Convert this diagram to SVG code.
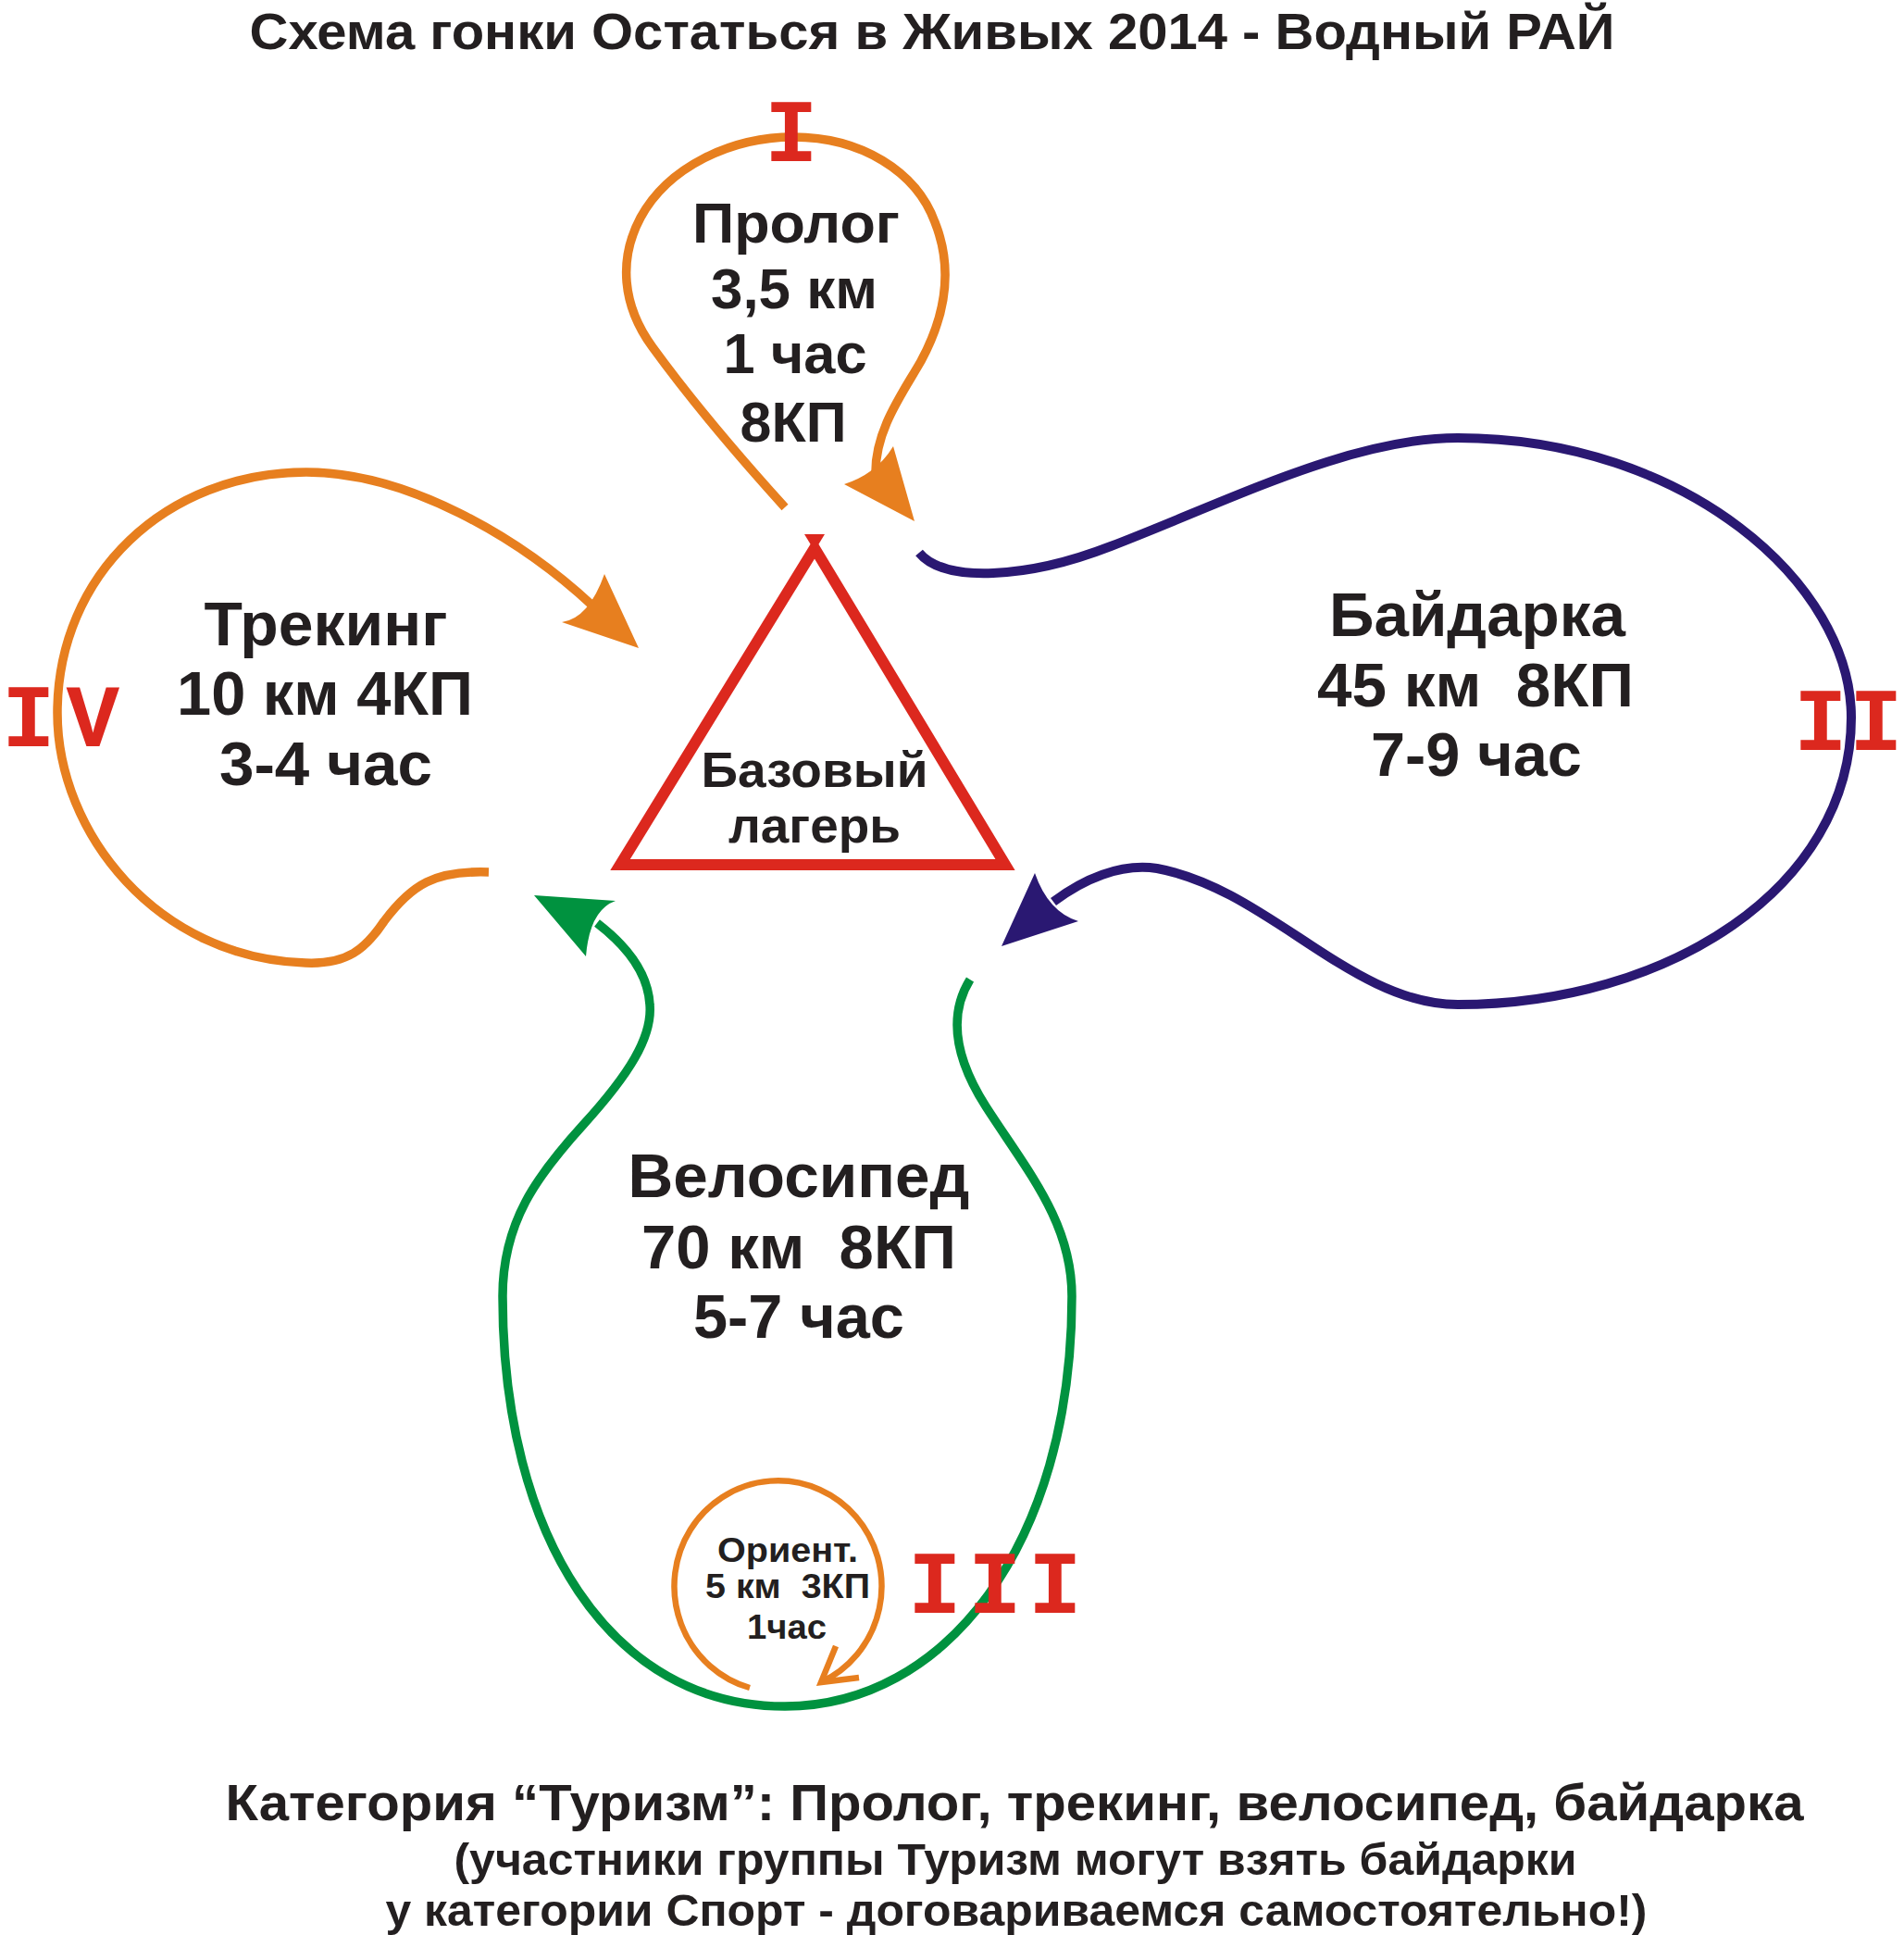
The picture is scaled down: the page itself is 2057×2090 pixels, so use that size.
<svg xmlns="http://www.w3.org/2000/svg" width="2057" height="2090" viewBox="0 0 2057 2090">
<style>
  .lbl { font-family: "Liberation Sans", Arial, "Noto Sans", sans-serif; font-weight: bold; fill: #231f20; text-anchor: middle; }
  .rn { font-family: "Liberation Mono", "Courier New", monospace; font-weight: bold; fill: #dc281e; }
  .orange { fill: none; stroke: #e77f1f; stroke-width: 9.5; }
  .orange-thin { fill: none; stroke: #e77f1f; stroke-width: 6.5; }
  .blue { fill: none; stroke: #2a1872; stroke-width: 10; }
  .green { fill: none; stroke: #00923f; stroke-width: 9.5; }
  .head-orange { fill: #e77f1f; }
  .head-blue { fill: #2a1872; }
  .head-green { fill: #00923f; }
</style>
<rect width="2057" height="2090" fill="#ffffff"/>

<g id="title">
  <text class="lbl" x="1007" y="53" font-size="56" textLength="1475" lengthAdjust="spacingAndGlyphs">Схема гонки Остаться в Живых 2014 - Водный РАЙ</text>
</g>

<g id="connectors">
  <!-- Prologue loop -->
  <path class="orange" d="M 848 548 C 800 495, 745 430, 705 375 C 672 330, 668 280, 692 235 C 722 180, 790 148, 857 148 C 930 148, 990 185, 1010 240 C 1030 290, 1022 340, 995 390 C 975 425, 945 465, 946 512"/>
  <path class="head-orange" d="M 988 563 L 912 523 Q 947.5 511.5 965 482 Z"/>
  <!-- Trekking loop -->
  <path class="orange" d="M 528 942 C 470 940, 445 955, 415 995 C 395 1025, 375 1042, 330 1040 C 170 1035, 62 900, 62 770 C 62 620, 180 510, 331 510 C 440 510, 560 580, 640 654"/>
  <path class="head-orange" d="M 690 700 L 607 672 Q 636 668 653 620 Z"/>
  <!-- Kayak loop -->
  <path class="blue" d="M 993 597 C 1020 630, 1110 625, 1200 590 C 1330 540, 1460 473, 1575 473 C 1820 473, 2000 630, 2000 775 C 2000 960, 1800 1085, 1575 1085 C 1460 1085, 1370 960, 1250 938 C 1210 932, 1170 950, 1138 974"/>
  <path class="head-blue" d="M 1082 1022 L 1118 943 Q 1132.5 985 1165 995 Z"/>
  <!-- Bike loop -->
  <path class="green" d="M 1048 1058 C 1025 1095, 1030 1140, 1065 1195 C 1110 1265, 1158 1320, 1158 1400 C 1158 1670, 1020 1843, 848 1843 C 660 1843, 543 1660, 543 1400 C 543 1320, 580 1270, 630 1215 C 680 1160, 705 1120, 702 1085 C 700 1050, 675 1020, 645 997"/>
  <path class="head-green" d="M 577 967 L 665 973 Q 637 983 633 1033 Z"/>
  <!-- Orientation loop -->
  <path class="orange-thin" d="M 810 1823 A 112 114 0 1 1 887 1817"/>
  <path class="orange-thin" d="M 903 1778 L 887 1817 L 928 1812"/>
</g>

<g id="node-base">
  <polygon points="880,592 1086,934 670,934" fill="none" stroke="#dc281e" stroke-width="12" stroke-linejoin="miter"/>
  <polygon points="869,577 891,577 880,595" fill="#dc281e"/>
  <text class="lbl" x="880" y="850" font-size="54" textLength="245" lengthAdjust="spacingAndGlyphs">Базовый</text>
  <text class="lbl" x="880" y="910" font-size="54" textLength="186" lengthAdjust="spacingAndGlyphs">лагерь</text>
</g>

<g id="node-prolog">
  <text class="rn" x="826" y="174" font-size="96">I</text>
  <text class="lbl" x="860" y="262" font-size="62" textLength="224" lengthAdjust="spacingAndGlyphs">Пролог</text>
  <text class="lbl" x="858" y="333" font-size="62" textLength="180" lengthAdjust="spacingAndGlyphs">3,5 км</text>
  <text class="lbl" x="859" y="403" font-size="62" textLength="155" lengthAdjust="spacingAndGlyphs">1 час</text>
  <text class="lbl" x="857" y="477" font-size="62" textLength="115" lengthAdjust="spacingAndGlyphs">8КП</text>
</g>

<g id="node-trekking">
  <text class="rn" x="2" y="806" font-size="96" letter-spacing="12">IV</text>
  <text class="lbl" x="352" y="697" font-size="66" textLength="263" lengthAdjust="spacingAndGlyphs">Трекинг</text>
  <text class="lbl" x="351" y="772" font-size="66" textLength="320" lengthAdjust="spacingAndGlyphs">10 км 4КП</text>
  <text class="lbl" x="352" y="848" font-size="66" textLength="230" lengthAdjust="spacingAndGlyphs">3-4 час</text>
</g>

<g id="node-kayak">
  <text class="rn" y="810" font-size="96"><tspan x="1938">I</tspan><tspan x="1998">I</tspan></text>
  <text class="lbl" x="1596" y="687" font-size="66" textLength="320" lengthAdjust="spacingAndGlyphs">Байдарка</text>
  <text class="lbl" x="1594" y="763" font-size="66" textLength="342" lengthAdjust="spacingAndGlyphs" xml:space="preserve">45 км  8КП</text>
  <text class="lbl" x="1595" y="838" font-size="66" textLength="228" lengthAdjust="spacingAndGlyphs">7-9 час</text>
</g>

<g id="node-bike">
  <text class="rn" x="981" y="1742" font-size="96" letter-spacing="7.4">III</text>
  <text class="lbl" x="863" y="1293" font-size="66" textLength="369" lengthAdjust="spacingAndGlyphs">Велосипед</text>
  <text class="lbl" x="863" y="1370" font-size="66" textLength="340" lengthAdjust="spacingAndGlyphs" xml:space="preserve">70 км  8КП</text>
  <text class="lbl" x="863" y="1445" font-size="66" textLength="228" lengthAdjust="spacingAndGlyphs">5-7 час</text>
</g>

<g id="node-orient">
  <text class="lbl" x="851" y="1687" font-size="36" textLength="152" lengthAdjust="spacingAndGlyphs">Ориент.</text>
  <text class="lbl" x="851" y="1726" font-size="36" textLength="178" lengthAdjust="spacingAndGlyphs" xml:space="preserve">5 км  3КП</text>
  <text class="lbl" x="850" y="1770" font-size="36" textLength="86" lengthAdjust="spacingAndGlyphs">1час</text>
</g>

<g id="footer">
  <text class="lbl" x="1096" y="1966" font-size="56" textLength="1705" lengthAdjust="spacingAndGlyphs">Категория “Туризм”: Пролог, трекинг, велосипед, байдарка</text>
  <text class="lbl" x="1097" y="2025" font-size="48" textLength="1213" lengthAdjust="spacingAndGlyphs">(участники группы Туризм могут взять байдарки</text>
  <text class="lbl" x="1098" y="2080" font-size="48" textLength="1363" lengthAdjust="spacingAndGlyphs">у категории Спорт - договариваемся самостоятельно!)</text>
</g>
</svg>
